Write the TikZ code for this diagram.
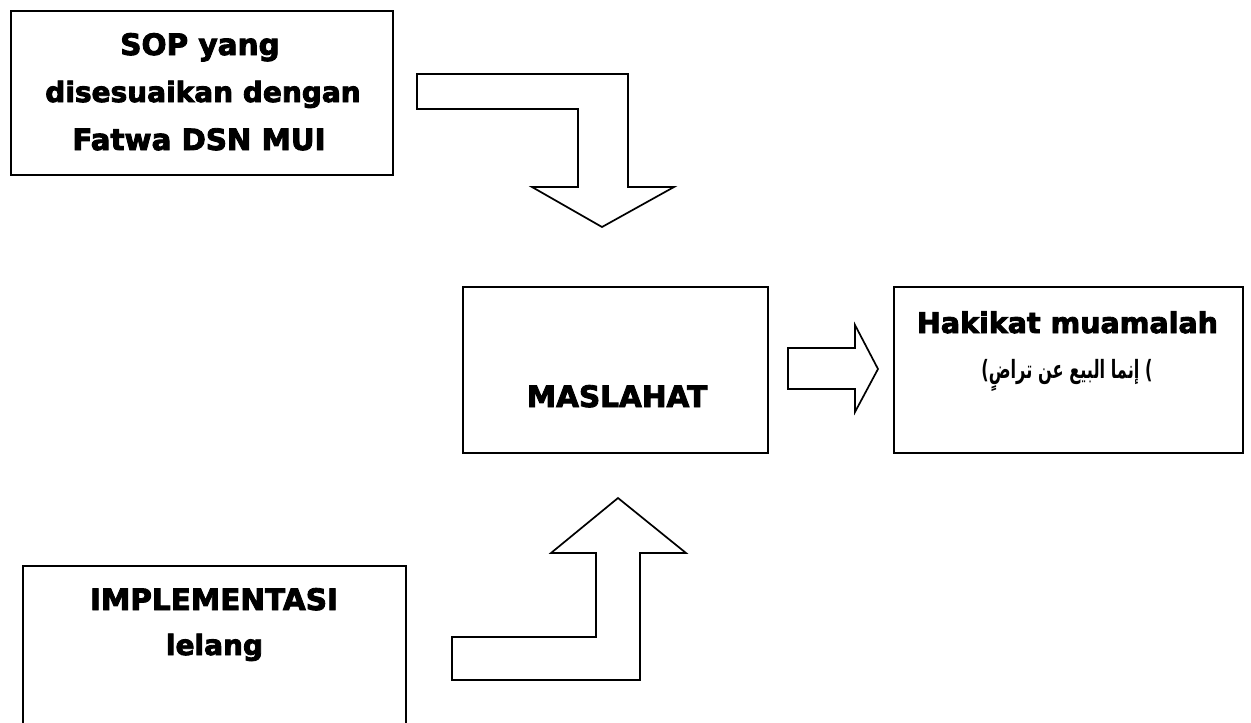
\documentclass[tikz,border=0pt]{standalone}
\usepackage{fontspec}
\setmainfont{DejaVu Sans}
\newfontfamily\heavy{DejaVu Sans Bold}[FakeBold=3]
\newfontfamily\arabicfont[Script=Arabic]{DejaVu Sans}
\TeXXeTstate=1
\newcommand{\fs}[1]{\heavy\fontsize{#1}{#1}\selectfont}
\begin{document}
\begin{tikzpicture}[x=1pt,y=-1pt,
  box/.style={draw=black,line width=2pt,fill=none,inner sep=0pt},
  blockarrow/.style={draw=black,line width=1.7pt,line join=miter,fill=white},
  lbl/.style={anchor=base,inner sep=0pt}]
\useasboundingbox (0,0) rectangle (1251,723);
\clip (0,0) rectangle (1251,723);
% boxes
\node[box,minimum width=382pt,minimum height=164pt] (sop) at (202,93) {};
\node[box,minimum width=305pt,minimum height=166pt] (masl) at (615.5,370) {};
\node[box,minimum width=349pt,minimum height=166pt] (hak) at (1068.5,370) {};
\node[box,minimum width=383pt,minimum height=200pt] (impl) at (214.5,666) {};
% texts
\node[lbl,font=\fs{29.5}] (t1) at (200,55) {SOP yang};
\node[lbl,font=\fs{28}] (t2) at (203,102) {disesuaikan dengan};
\node[lbl,font=\fs{29.3}] (t3) at (199,150) {Fatwa DSN MUI};
\node[lbl,font=\fs{29.5}] (t4) at (617,407) {MASLAHAT};
\node[lbl,font=\fs{28.5}] (t5) at (1067.5,333) {Hakikat muamalah};
\node[lbl] (t6) at (1067,378) {\scalebox{0.9}[1.4]{\bfseries\fontsize{18}{18}\selectfont(\arabicfont\beginR إنما البيع عن تراضٍ\endR{} )}};
\node[lbl,font=\fs{29.5}] (t7) at (214,610) {IMPLEMENTASI};
\node[lbl,font=\fs{28}] (t8) at (214.5,655) {lelang};
% block arrows
\draw[blockarrow] (417,74) -- (628,74) -- (628,187) -- (674,187) -- (602,227)
  -- (532,187) -- (578,187) -- (578,109) -- (417,109) -- cycle;
\draw[blockarrow] (788,348) -- (855,348) -- (855,325) -- (878,369) -- (855,412)
  -- (855,389) -- (788,389) -- cycle;
\draw[blockarrow] (452,680) -- (452,637) -- (596,637) -- (596,553) -- (551,553)
  -- (618,498) -- (686,553) -- (640,553) -- (640,680) -- cycle;
\end{tikzpicture}
\end{document}
